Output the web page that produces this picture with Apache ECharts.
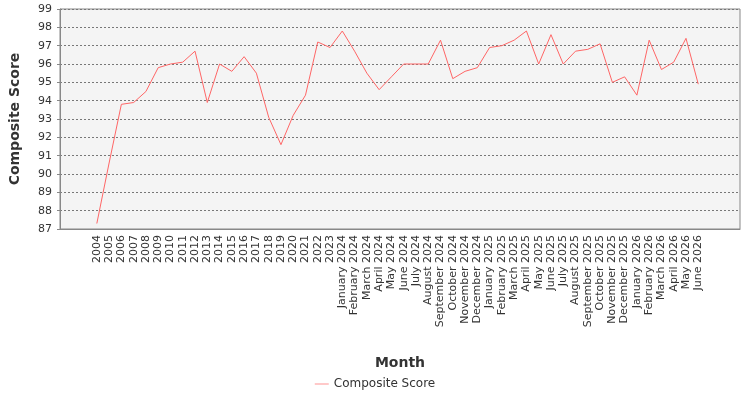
<!DOCTYPE html>
<html>
<head>
<meta charset="utf-8">
<script src="https://cdn.jsdelivr.net/npm/echarts@6/dist/echarts.min.js"></script>
<style>html,body{margin:0;padding:0;background:#fff}#main{width:750px;height:400px}</style>
</head>
<body>
<div id="main"></div>
<script>
var months = ['2004', '2005', '2006', '2007', '2008', '2009', '2010', '2011', '2012', '2013',
	'2014', '2015', '2016', '2017', '2018', '2019', '2020', '2021', '2022', '2023',
	'January 2024', 'February 2024', 'March 2024', 'April 2024', 'May 2024', 'June 2024',
	'July 2024', 'August 2024', 'September 2024', 'October 2024', 'November 2024', 'December 2024',
	'January 2025', 'February 2025', 'March 2025', 'April 2025', 'May 2025', 'June 2025',
	'July 2025', 'August 2025', 'September 2025', 'October 2025', 'November 2025', 'December 2025',
	'January 2026', 'February 2026', 'March 2026', 'April 2026', 'May 2026', 'June 2026'];
var scores = [87.3, 90.6, 93.8, 93.9, 94.5, 95.8, 96.0, 96.1, 96.7, 93.9,
	96.0, 95.6, 96.4, 95.5, 93.1, 91.6, 93.2, 94.3, 97.2, 96.9,
	97.8, 96.7, 95.5, 94.6, 95.3, 96.0, 96.0, 96.0, 97.3, 95.2, 95.6, 95.8,
	96.9, 97.0, 97.3, 97.8, 96.0, 97.6, 96.0, 96.7, 96.8, 97.1, 95.0, 95.3,
	94.3, 97.3, 95.7, 96.1, 97.4, 94.9];
var yTicks = [87, 99, 1]; // min, max, step

var pts = scores.map(function (v, i) { return [i, v]; });

var myChart = echarts.init(document.getElementById('main'));
var option = {
	textStyle: { fontFamily: 'DejaVu Sans' },
	grid: {
		left: 60, right: 10, top: 9, bottom: 171,
		show: true, backgroundColor: '#f4f4f4', borderColor: '#888', borderWidth: 1
	},
	legend: {
		bottom: 5, left: 'center',
		icon: 'path://M0,5 L20,5 L20,6 L0,6 Z',
		itemWidth: 14, itemHeight: 6,
		textStyle: { color: '#333', fontSize: 12 },
		data: ['Composite Score']
	},
	xAxis: {
		type: 'value', min: -3, max: 52.4, interval: 1,
		name: 'Month', nameLocation: 'middle', nameGap: 127,
		nameTextStyle: { fontSize: 14, color: '#333', fontWeight: 'bold' },
		axisLine: { onZero: false, lineStyle: { color: '#888' } },
		axisTick: { show: false },
		splitLine: { show: false },
		axisLabel: {
			rotate: 90, fontSize: 11, color: '#333', margin: 6,
			formatter: function (v) { return months[v] || ''; }
		}
	},
	yAxis: {
		type: 'value', min: yTicks[0], max: yTicks[1], interval: yTicks[2],
		name: 'Composite Score', nameLocation: 'middle', nameGap: 38,
		nameTextStyle: { fontSize: 14, color: '#333', fontWeight: 'bold' },
		axisLine: { show: true, onZero: false, lineStyle: { color: '#888' } },
		axisTick: { show: true, length: 3, lineStyle: { color: '#888' } },
		axisLabel: { fontSize: 11, color: '#333' },
		splitLine: { lineStyle: { color: '#777', type: [2, 2] } }
	},
	series: [{
		name: 'Composite Score', type: 'line', data: pts,
		showSymbol: false, symbol: 'none',
		lineStyle: { color: '#ff6666', width: 1 },
		itemStyle: { color: '#ff6666' }
	}]
};
myChart.setOption(option);
</script>
</body>
</html>
